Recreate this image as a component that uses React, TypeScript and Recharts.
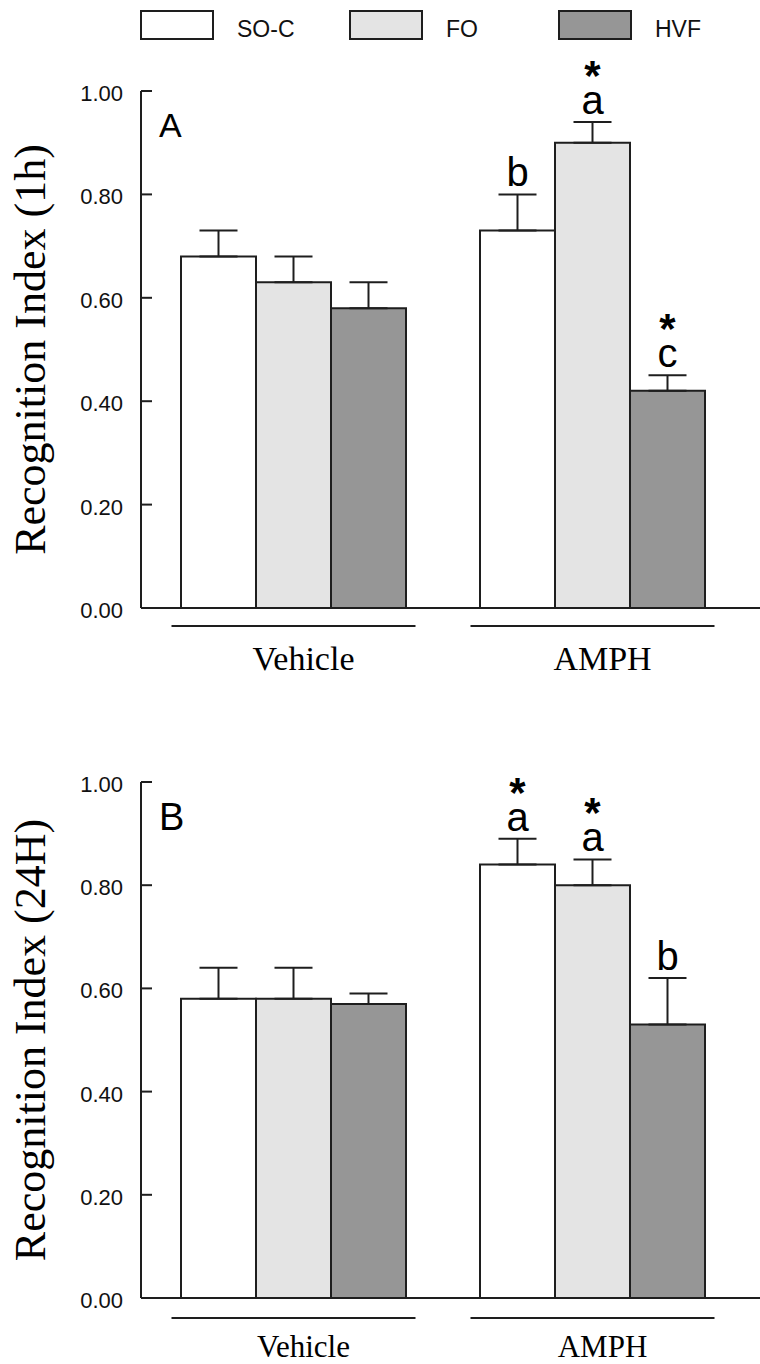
import React from 'react'
import { BarChart, Bar, XAxis, YAxis, ErrorBar, LabelList, Label } from 'recharts'

const GROUPS = ['Vehicle', 'AMPH']
const SERIES = ['SO-C', 'FO', 'HVF']
const FILLS = ['#ffffff', '#e4e4e4', '#969696']
const Y_TICKS = [0, 0.2, 0.4, 0.6, 0.8, 1.0]

// panel A - recognition index at 1 h (mean, SEM per group)
const SOC_1H = [0.68, 0.73]
const FO_1H = [0.63, 0.9]
const HVF_1H = [0.58, 0.42]
const SOC_1H_SEM = [0.05, 0.07]
const FO_1H_SEM = [0.05, 0.04]
const HVF_1H_SEM = [0.05, 0.03]
const SOC_1H_LETTER = ['', 'b']
const FO_1H_LETTER = ['', 'a']
const HVF_1H_LETTER = ['', 'c']
const SOC_1H_STAR = [false, false]
const FO_1H_STAR = [false, true]
const HVF_1H_STAR = [false, true]

// panel B - recognition index at 24 h
const SOC_24H = [0.58, 0.84]
const FO_24H = [0.58, 0.8]
const HVF_24H = [0.57, 0.53]
const SOC_24H_SEM = [0.06, 0.05]
const FO_24H_SEM = [0.06, 0.05]
const HVF_24H_SEM = [0.02, 0.09]
const SOC_24H_LETTER = ['', 'a']
const FO_24H_LETTER = ['', 'a']
const HVF_24H_LETTER = ['', 'b']
const SOC_24H_STAR = [false, true]
const FO_24H_STAR = [false, true]
const HVF_24H_STAR = [false, false]

const SANS = '"Liberation Sans", Arial, sans-serif'
const SERIF = '"Liberation Serif", "Times New Roman", serif'
const INK = '#1e1e1e'
const AXIS_X = 141

type Panel = {
  title: string
  tag: string
  tagSize: number
  means: number[][]
  sems: number[][]
  letters: string[][]
  stars: boolean[][]
  top: number
  height: number
  marginTop: number
  plotHeight: number
  groupFont: number
  underlineDy: number
  labelDy: number
}

const PANELS: Panel[] = [
  {
    title: 'Recognition Index (1h)',
    tag: 'A',
    tagSize: 34,
    means: [SOC_1H, FO_1H, HVF_1H],
    sems: [SOC_1H_SEM, FO_1H_SEM, HVF_1H_SEM],
    letters: [SOC_1H_LETTER, FO_1H_LETTER, HVF_1H_LETTER],
    stars: [SOC_1H_STAR, FO_1H_STAR, HVF_1H_STAR],
    top: 0,
    height: 690,
    marginTop: 91,
    plotHeight: 517,
    groupFont: 34,
    underlineDy: 18,
    labelDy: 62,
  },
  {
    title: 'Recognition Index (24H)',
    tag: 'B',
    tagSize: 38,
    means: [SOC_24H, FO_24H, HVF_24H],
    sems: [SOC_24H_SEM, FO_24H_SEM, HVF_24H_SEM],
    letters: [SOC_24H_LETTER, FO_24H_LETTER, HVF_24H_LETTER],
    stars: [SOC_24H_STAR, FO_24H_STAR, HVF_24H_STAR],
    top: 690,
    height: 674,
    marginTop: 92,
    plotHeight: 516,
    groupFont: 31,
    underlineDy: 20,
    labelDy: 59,
  },
]

const makeMark = (sems: number[], letters: string[], stars: boolean[]) => (props: any) => {
  const { x, y, width, height, value, index } = props
  if (!letters[index]) return null
  const capY = y - sems[index] * (height / value)
  const cx = x + width / 2
  const base = capY - 8
  return (
    <g>
      <text x={cx} y={base} textAnchor="middle" fontSize={40} fontFamily={SANS} fill="#000">
        {letters[index]}
      </text>
      {stars[index] && (
        <text x={cx} y={base - 24} textAnchor="middle" fontSize={42} fontWeight="bold" fontFamily={SANS} fill="#000">
          *
        </text>
      )}
    </g>
  )
}

const YTick = (props: any) => {
  const { y, payload } = props
  return (
    <g>
      <line x1={AXIS_X} x2={AXIS_X + 11} y1={y} y2={y} stroke={INK} strokeWidth={2} />
      <text x={123} y={y + 10} textAnchor="end" fontSize={22} fontFamily={SANS} fill="#111">
        {Number(payload.value).toFixed(2)}
      </text>
    </g>
  )
}

const makeGroupTick = (axisY: number, font: number, underlineDy: number, labelDy: number) => (props: any) => {
  const { x, payload } = props
  return (
    <g>
      <line x1={x - 122} x2={x + 122} y1={axisY + underlineDy} y2={axisY + underlineDy} stroke={INK} strokeWidth={2} />
      <text x={x + 10} y={axisY + labelDy} textAnchor="middle" fontSize={font} fontFamily={SERIF} fill="#000">
        {payload.value}
      </text>
    </g>
  )
}

const PanelChart = ({ p }: { p: Panel }) => {
  const data = GROUPS.map((g, i) => {
    const row: Record<string, any> = { group: g }
    SERIES.forEach((_, s) => {
      row['m' + s] = p.means[s][i]
      row['e' + s] = [0, p.sems[s][i]]
    })
    return row
  })
  const axisY = p.marginTop + p.plotHeight
  const xAxisHeight = p.height - axisY
  const midY = p.marginTop + p.plotHeight / 2

  return (
    <BarChart
      width={760}
      height={p.height}
      data={data}
      margin={{ top: p.marginTop, right: 0, bottom: 0, left: 0 }}
      barCategoryGap={37}
      barGap={0}
    >
      <XAxis
        dataKey="group"
        height={xAxisHeight}
        padding={{ left: 3, right: 18 }}
        tickLine={false}
        axisLine={{ stroke: INK, strokeWidth: 2 }}
        tick={makeGroupTick(axisY, p.groupFont, p.underlineDy, p.labelDy)}
        interval={0}
      />
      <YAxis
        width={AXIS_X}
        domain={[0, 1]}
        ticks={Y_TICKS}
        tickLine={false}
        axisLine={{ stroke: INK, strokeWidth: 2 }}
        tick={<YTick />}
      >
        <Label
          content={() => (
            <text
              transform={`translate(45, ${midY}) rotate(-90)`}
              textAnchor="middle"
              fontSize={44}
              fontFamily={SERIF}
              fill="#000"
            >
              {p.title}
            </text>
          )}
        />
      </YAxis>
      {SERIES.map((name, s) => (
        <Bar
          key={name}
          name={name}
          dataKey={'m' + s}
          fill={FILLS[s]}
          stroke={INK}
          strokeWidth={2}
          isAnimationActive={false}
        >
          <ErrorBar dataKey={'e' + s} width={19} stroke={INK} strokeWidth={2} direction="y" />
          <LabelList dataKey={'m' + s} content={makeMark(p.sems[s], p.letters[s], p.stars[s])} />
        </Bar>
      ))}
    </BarChart>
  )
}

const Legend = () => (
  <svg width={760} height={50} style={{ position: 'absolute', left: 0, top: 0 }}>
    {SERIES.map((name, s) => (
      <g key={name}>
        <rect x={141 + s * 209} y={11} width={72} height={28} fill={FILLS[s]} stroke={INK} strokeWidth={2} />
        <text x={237 + s * 209} y={37} fontSize={23} fontFamily={SANS} fill="#111">
          {name}
        </text>
      </g>
    ))}
  </svg>
)

export default function App() {
  return (
    <div style={{ position: 'absolute', left: 0, top: 0, width: 760, height: 1364, background: '#fff' }}>
      {PANELS.map((p) => (
        <div key={p.tag} style={{ position: 'absolute', left: 0, top: p.top }}>
          <PanelChart p={p} />
          <svg width={200} height={60} style={{ position: 'absolute', left: 0, top: p.marginTop }}>
            <text x={159} y={p.tag === 'A' ? 46 : 48} fontSize={p.tagSize} fontFamily={SANS} fill="#000">
              {p.tag}
            </text>
          </svg>
        </div>
      ))}
      <Legend />
    </div>
  )
}
